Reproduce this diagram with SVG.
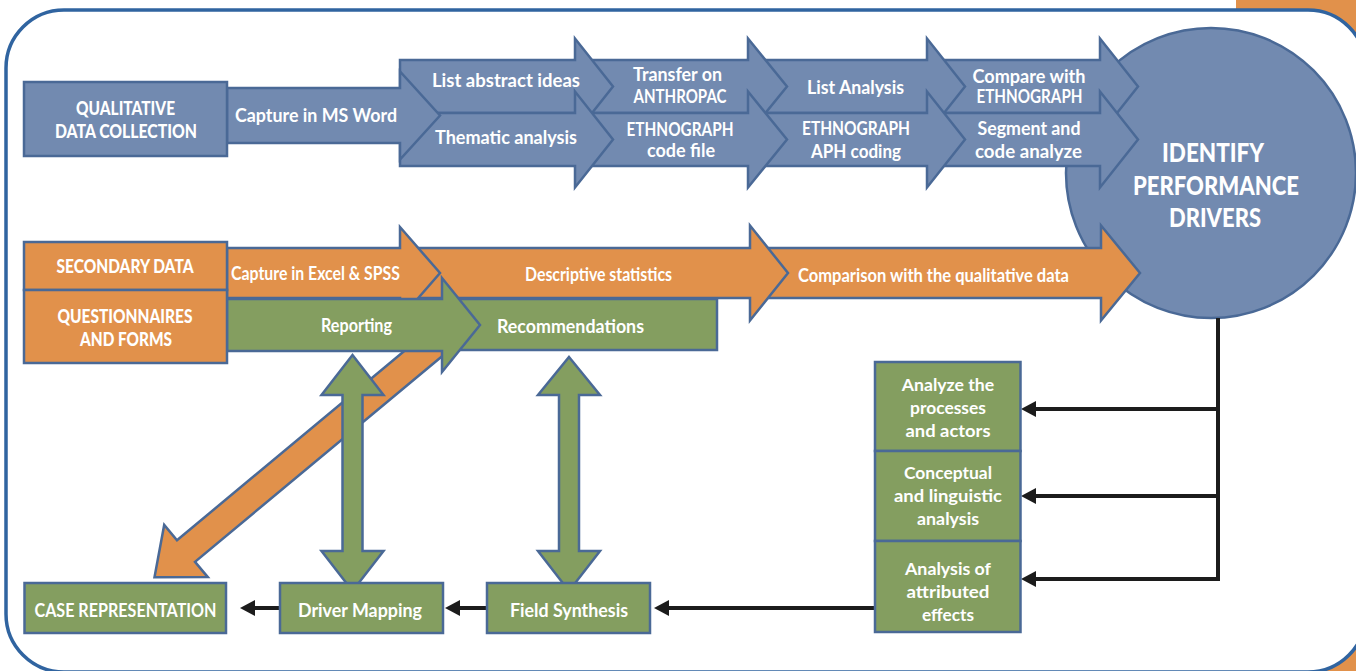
<svg xmlns="http://www.w3.org/2000/svg" width="1356" height="671" viewBox="0 0 1356 671">
<defs>
<style>
.frame{fill:#fff;stroke:#3064a0;stroke-width:3.5}
.b{fill:#728ab0;stroke:#4a6996;stroke-width:2.5}
.o{fill:#e1914b;stroke:#4a6996;stroke-width:2.5}
.g{fill:#849e60;stroke:#4a6996;stroke-width:2.5}
text{font-family:Lato,"Open Sans","Liberation Sans",sans-serif;font-weight:700;fill:#fff;text-anchor:middle}
.s17{font-size:17px}
.s18{font-size:18px}
.s19{font-size:19px}
.caps{font-size:18px;font-weight:900}
.big{font-size:27px;font-weight:900}
.wire{fill:none;stroke:#1c1c1c;stroke-width:4}
</style>
<marker id="head" viewBox="0 0 15 16" refX="5" refY="8" markerWidth="15" markerHeight="16" markerUnits="userSpaceOnUse" orient="auto"><path d="M0,0 L15,8 L0,16 z" fill="#1c1c1c"/></marker>
</defs>

<!-- page background: orange corner band behind the rounded frame -->
<rect x="1236" y="0" width="120" height="671" fill="#e1914b"/>
<path class="frame" d="M6,68 A58,58 0 0 1 64,10 H1308 A58,58 0 0 1 1366,68 V614 A58,58 0 0 1 1308,672 H64 A58,58 0 0 1 6,614 Z"/>

<g id="identify-performance-drivers">
<circle class="b" cx="1211" cy="173" r="145"/>
<text class="big" x="1213" y="161.5" textLength="102" lengthAdjust="spacingAndGlyphs">IDENTIFY</text>
<text class="big" x="1216" y="195" textLength="166" lengthAdjust="spacingAndGlyphs">PERFORMANCE</text>
<text class="big" x="1215" y="226.5" textLength="92" lengthAdjust="spacingAndGlyphs">DRIVERS</text>
</g>

<!-- qualitative stream: block arrows, drawn right to left so each head overlaps the next body -->
<g id="compare-ethnograph">
<polygon class="b" points="927,60 1100,60 1100,38.5 1138,86.5 1100,134.5 1100,113 927,113"/>
<text class="s18" x="1029" y="82.5" textLength="113" lengthAdjust="spacingAndGlyphs">Compare with</text>
<text class="s18" x="1029.5" y="103" textLength="106" lengthAdjust="spacingAndGlyphs">ETHNOGRAPH</text>
</g>
<g id="segment-code">
<polygon class="b" points="927,113 1100,113 1100,91.5 1138,139.5 1100,187.5 1100,166 927,166"/>
<text class="s18" x="1029" y="135" textLength="103" lengthAdjust="spacingAndGlyphs">Segment and</text>
<text class="s18" x="1028.5" y="158" textLength="107" lengthAdjust="spacingAndGlyphs">code analyze</text>
</g>
<g id="list-analysis">
<polygon class="b" points="748,60 927,60 927,38.5 965,86.5 927,134.5 927,113 748,113"/>
<text class="s18" x="855.5" y="94" textLength="97" lengthAdjust="spacingAndGlyphs">List Analysis</text>
</g>
<g id="aph-coding">
<polygon class="b" points="748,113 927,113 927,91.5 965,139.5 927,187.5 927,166 748,166"/>
<text class="s18" x="856" y="135" textLength="108" lengthAdjust="spacingAndGlyphs">ETHNOGRAPH</text>
<text class="s18" x="856" y="158" textLength="90" lengthAdjust="spacingAndGlyphs">APH coding</text>
</g>
<g id="transfer-anthropac">
<polygon class="b" points="575,60 748,60 748,38.5 787,86.5 748,134.5 748,113 575,113"/>
<text class="s18" x="677.5" y="80.5" textLength="89" lengthAdjust="spacingAndGlyphs">Transfer on</text>
<text class="s18" x="680" y="103" textLength="93" lengthAdjust="spacingAndGlyphs">ANTHROPAC</text>
</g>
<g id="code-file">
<polygon class="b" points="575,113 748,113 748,91.5 787,139.5 748,187.5 748,166 575,166"/>
<text class="s18" x="680" y="136" textLength="107" lengthAdjust="spacingAndGlyphs">ETHNOGRAPH</text>
<text class="s18" x="681" y="157" textLength="68" lengthAdjust="spacingAndGlyphs">code file</text>
</g>
<g id="list-abstract-ideas">
<polygon class="b" points="400,60 575,60 575,38.5 613,86.5 575,134.5 575,113 400,113"/>
<text class="s18" x="506" y="87" textLength="148" lengthAdjust="spacingAndGlyphs">List abstract ideas</text>
</g>
<g id="thematic-analysis">
<polygon class="b" points="400,113 575,113 575,91.5 613,139.5 575,187.5 575,166 400,166"/>
<text class="s18" x="506" y="144" textLength="142" lengthAdjust="spacingAndGlyphs">Thematic analysis</text>
</g>
<g id="capture-ms-word">
<polygon class="b" points="227,88 400,88 400,71.5 440,115.5 400,159.5 400,143 227,143"/>
<text class="s18" x="316" y="122" textLength="162" lengthAdjust="spacingAndGlyphs">Capture in MS Word</text>
</g>
<g id="qualitative-data-collection">
<rect class="b" x="24" y="82" width="203" height="74"/>
<text class="caps" x="125.5" y="115" textLength="99" lengthAdjust="spacingAndGlyphs">QUALITATIVE</text>
<text class="caps" x="126" y="137.5" textLength="142" lengthAdjust="spacingAndGlyphs">DATA COLLECTION</text>
</g>

<!-- quantitative stream -->
<g id="comparison-qualitative">
<polygon class="o" points="750,248 1101,248 1101,225.5 1140,273 1101,320.5 1101,298 750,298"/>
<text class="s19" x="933.5" y="281.5" textLength="271" lengthAdjust="spacingAndGlyphs">Comparison with the qualitative data</text>
</g>
<g id="descriptive-statistics">
<polygon class="o" points="400,248 750,248 750,225.5 788,273 750,320.5 750,298 400,298"/>
<text class="s19" x="598.5" y="281" textLength="147" lengthAdjust="spacingAndGlyphs">Descriptive statistics</text>
</g>
<g id="capture-excel-spss">
<polygon class="o" points="227,248 400,248 400,227 440,273 400,319 400,298 227,298"/>
<text class="s18" x="315.5" y="280" textLength="169" lengthAdjust="spacingAndGlyphs">Capture in Excel &amp; SPSS</text>
</g>

<!-- links between stages -->
<g id="connectors">
<polygon class="o" points="456.5,344.2 195,561.8 207.8,577.1 154.5,577.2 164.2,524.9 177,540.2 438.5,322.6"/>
<polygon class="g" points="352.5,355 383.5,395 362.5,395 362.5,551 383.5,551 352.5,591 321.5,551 342.5,551 342.5,395 321.5,395"/>
<polygon class="g" points="569,357 600,395 579,395 579,551 600,551 569,591 538,551 559,551 559,395 538,395"/>
<path class="wire" d="M1218,318 V579 H1031" marker-end="url(#head)"/>
<path class="wire" d="M1218,409 H1031" marker-end="url(#head)"/>
<path class="wire" d="M1218,496 H1031" marker-end="url(#head)"/>
<path class="wire" d="M875,608 H664" marker-end="url(#head)"/>
<path class="wire" d="M487,608 H455" marker-end="url(#head)"/>
<path class="wire" d="M280,608 H250" marker-end="url(#head)"/>
</g>

<g id="recommendations">
<rect class="g" x="435" y="299" width="282" height="51"/>
<text class="s19" x="570.5" y="332.5" textLength="147" lengthAdjust="spacingAndGlyphs">Recommendations</text>
</g>
<g id="reporting">
<polygon class="g" points="227,299 442,299 442,278 480,325 442,372 442,351 227,351"/>
<text class="s19" x="356.5" y="331.5" textLength="71" lengthAdjust="spacingAndGlyphs">Reporting</text>
</g>
<g id="secondary-data">
<rect class="o" x="24" y="242" width="203" height="48"/>
<text class="caps" x="125" y="273" textLength="137" lengthAdjust="spacingAndGlyphs">SECONDARY DATA</text>
</g>
<g id="questionnaires-forms">
<rect class="o" x="24" y="290" width="203" height="73"/>
<text class="caps" x="125" y="323" textLength="135" lengthAdjust="spacingAndGlyphs">QUESTIONNAIRES</text>
<text class="caps" x="126" y="345.5" textLength="92" lengthAdjust="spacingAndGlyphs">AND FORMS</text>
</g>

<!-- analysis column -->
<g id="analyze-processes">
<rect class="g" x="875" y="362" width="145.5" height="89"/>
<text class="s17" x="948" y="390.7" textLength="92.5" lengthAdjust="spacingAndGlyphs">Analyze the</text>
<text class="s17" x="948" y="414.3" textLength="76" lengthAdjust="spacingAndGlyphs">processes</text>
<text class="s17" x="948" y="436.7" textLength="85" lengthAdjust="spacingAndGlyphs">and actors</text>
</g>
<g id="conceptual-linguistic">
<rect class="g" x="875" y="451" width="145.5" height="90"/>
<text class="s17" x="948" y="479.3" textLength="88" lengthAdjust="spacingAndGlyphs">Conceptual</text>
<text class="s17" x="948" y="502.3" textLength="108" lengthAdjust="spacingAndGlyphs">and linguistic</text>
<text class="s17" x="948" y="525" textLength="62" lengthAdjust="spacingAndGlyphs">analysis</text>
</g>
<g id="attributed-effects">
<rect class="g" x="875" y="541" width="145.5" height="91"/>
<text class="s17" x="948" y="575.3" textLength="86" lengthAdjust="spacingAndGlyphs">Analysis of</text>
<text class="s17" x="948" y="598.3" textLength="83" lengthAdjust="spacingAndGlyphs">attributed</text>
<text class="s17" x="948" y="621" textLength="52" lengthAdjust="spacingAndGlyphs">effects</text>
</g>

<!-- synthesis row -->
<g id="field-synthesis">
<rect class="g" x="487" y="583" width="163" height="50"/>
<text class="s19" x="569" y="616.7" textLength="118" lengthAdjust="spacingAndGlyphs">Field Synthesis</text>
</g>
<g id="driver-mapping">
<rect class="g" x="280" y="583" width="163" height="50"/>
<text class="s19" x="360" y="616.7" textLength="124" lengthAdjust="spacingAndGlyphs">Driver Mapping</text>
</g>
<g id="case-representation">
<rect class="g" x="24.5" y="583" width="201.5" height="50"/>
<text class="s19" x="125.5" y="616.5" textLength="182" lengthAdjust="spacingAndGlyphs">CASE REPRESENTATION</text>
</g>
</svg>
